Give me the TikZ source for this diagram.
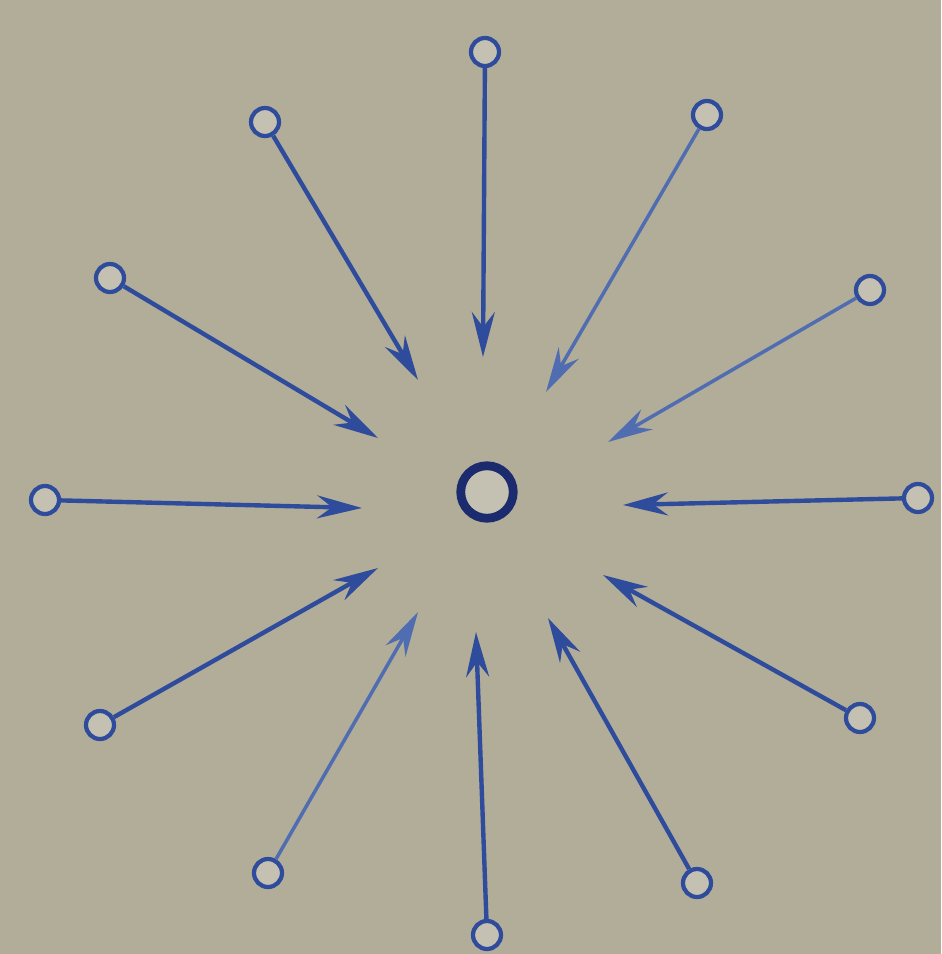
\documentclass[tikz,border=0pt]{standalone}
\definecolor{SketchPaper}{HTML}{B1AD99}
\definecolor{SketchInk}{HTML}{2F4C9C}
\definecolor{SketchPale}{HTML}{4F6DB0}
\definecolor{SketchDark}{HTML}{1C2A6E}
\usepackage{tikz}
\usetikzlibrary{arrows.meta}
\tikzset{
  source/.style={circle, draw=SketchInk, line width=2.4pt, minimum size=0.56cm, inner sep=0pt, fill=SketchPaper!75!white},
  core/.style={circle, draw=SketchDark, line width=5pt, minimum size=1.05cm, inner sep=0pt, fill=SketchPaper!75!white},
  arrow/.style={-{Stealth[length=9mm,width=4.6mm,inset=3mm]}, line width=2.5pt, SketchInk},
  palearrow/.style={arrow, SketchPale, line width=2pt}
}

\begin{document}
\begin{tikzpicture}[x=0.02cm, y=-0.02cm]
    \fill[SketchPaper] (0,0) rectangle (941,954);
    \useasboundingbox (0,0) rectangle (941,954);

    \node[core] (centre) at (487,492) {};

    \node[source] (top) at (485,52) {};
    \node[source] (topleft) at (265,122) {};
    \node[source] (upleft) at (110,278) {};
    \node[source] (left) at (45,500) {};
    \node[source] (lowleft) at (100,725) {};
    \node[source] (botleft) at (268,873) {};
    \node[source] (bot) at (487,935) {};
    \node[source] (botright) at (697,883) {};
    \node[source] (lowright) at (860,718) {};
    \node[source] (right) at (918,498) {};
    \node[source] (upright) at (870,290) {};
    \node[source] (topright) at (707,115) {};

    \coordinate (intop) at (483,357);
    \coordinate (intopleft) at (418,380);
    \coordinate (inupleft) at (378,438);
    \coordinate (inleft) at (362,508);
    \coordinate (inlowleft) at (378,568);
    \coordinate (inbotleft) at (418,612);
    \coordinate (inbot) at (476,632);
    \coordinate (inbotright) at (548,618);
    \coordinate (inlowright) at (603,575);
    \coordinate (inright) at (623,505);
    \coordinate (inupright) at (608,442);
    \coordinate (intopright) at (546,392);

    \draw[arrow] (top) -- (intop);
    \draw[arrow] (topleft) -- (intopleft);
    \draw[arrow] (upleft) -- (inupleft);
    \draw[arrow] (left) -- (inleft);
    \draw[arrow] (lowleft) -- (inlowleft);
    \draw[palearrow] (botleft) -- (inbotleft);
    \draw[arrow] (bot) -- (inbot);
    \draw[arrow] (botright) -- (inbotright);
    \draw[arrow] (lowright) -- (inlowright);
    \draw[arrow] (right) -- (inright);
    \draw[palearrow] (upright) -- (inupright);
    \draw[palearrow] (topright) -- (intopright);
  \end{tikzpicture}
\end{document}
